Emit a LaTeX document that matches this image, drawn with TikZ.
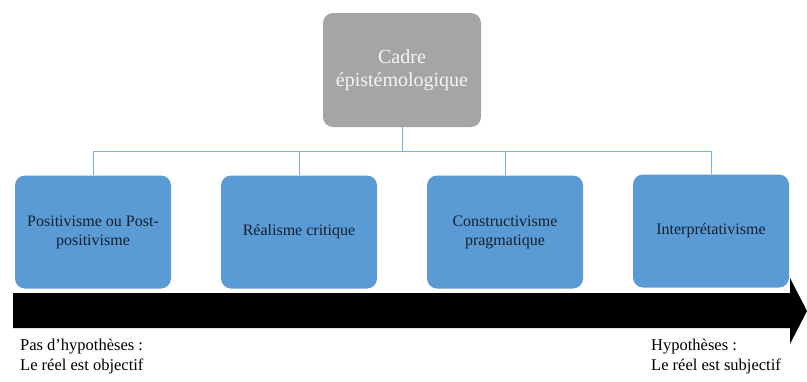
\documentclass[tikz,border=0pt]{standalone}
\usepackage{fontspec}
\setmainfont{Liberation Serif}
\newfontfamily\tnr{Liberation Serif}
\begin{document}
\begin{tikzpicture}[x=1pt,y=1pt,
  gbox/.style={draw=none,fill=gfill,rounded corners=10pt,minimum width=158pt,minimum height=114pt,inner sep=0pt,align=center,text=gtext,font=\tnr\fontsize{20}{23}\selectfont},
  bbox/.style={draw=none,fill=bfill,rounded corners=10pt,minimum width=156pt,minimum height=113pt,inner sep=0pt,align=center,text=btext,font=\tnr\fontsize{16}{19}\selectfont},
  conn/.style={draw=lcol,line width=1pt},
  lbl/.style={inner sep=0pt,anchor=north west,align=left,font=\tnr\fontsize{16.5}{20}\selectfont,text=black}]
\definecolor{gfill}{HTML}{A5A5A5}
\definecolor{gtext}{HTML}{F4F4F4}
\definecolor{bfill}{HTML}{5B9BD5}
\definecolor{btext}{HTML}{14202E}
\definecolor{lcol}{HTML}{7FAEDC}
\useasboundingbox (0,0) rectangle (807,-381);
% black arrow
\fill[black] (13,-293) -- (790,-293) -- (790,-278) -- (807,-311) -- (790,-344) -- (790,-328) -- (13,-328) -- cycle;
% top box
\node[gbox] (g) at (402,-70) {Cadre\\épistémologique};
% blue boxes
\node[bbox] (b1) at (93,-232) {Positivisme ou Post-\\positivisme};
\node[bbox] (b2) at (299,-232) {Réalisme critique};
\node[bbox] (b3) at (505,-232) {Constructivisme\\pragmatique};
\node[bbox] (b4) at (711,-231) {Interprétativisme};
% connectors
\coordinate (hub) at (402,-151);
\draw[conn] (g.south) -- (hub);
\draw[conn] (b1.north) -- (b1.north |- hub) -- (b4.north |- hub) -- (b4.north);
\draw[conn] (b2.north) -- (b2.north |- hub);
\draw[conn] (b3.north) -- (b3.north |- hub);
% bottom labels
\node[lbl] (l1) at (20,-339) {Pas d’hypothèses :\\Le réel est objectif};
\node[lbl] (l2) at (651,-339) {Hypothèses :\\Le réel est subjectif};
\end{tikzpicture}
\end{document}
